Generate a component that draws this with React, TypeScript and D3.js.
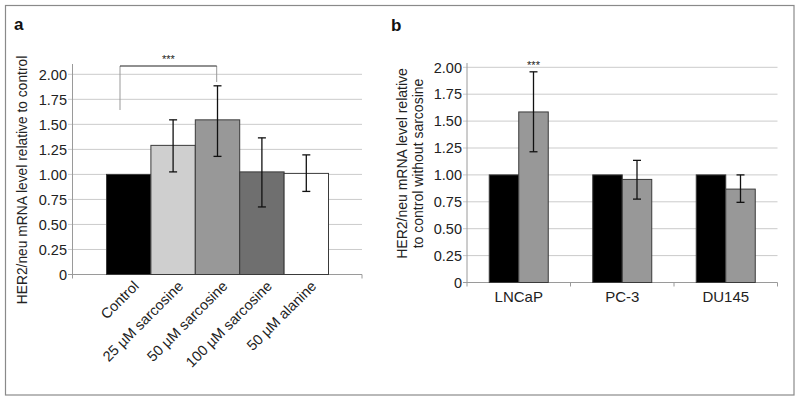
import React from "react";
import * as d3 from "d3";

// Panel a data
const seriesA = ["Control", "25 µM sarcosine", "50 µM sarcosine", "100 µM sarcosine", "50 µM alanine"];
const valuesA = [1.0, 1.29, 1.545, 1.025, 1.01];
const errHiA = [null, 1.545, 1.885, 1.365, 1.195];
const errLoA = [null, 1.025, 1.18, 0.675, 0.83];
const colorsA = ["#000000", "#cfcfcf", "#989898", "#6f6f6f", "#ffffff"];

// Panel b data
const cellsB = ["LNCaP", "PC-3", "DU145"];
const controlB = [1.0, 1.0, 1.0];
const sarcosineB = [1.585, 0.958, 0.868];
const errHiB = [1.958, 1.135, 1.0];
const errLoB = [1.215, 0.775, 0.745];
const colorsB = ["#000000", "#989898"];

const yTicks = [0, 0.25, 0.5, 0.75, 1.0, 1.25, 1.5, 1.75, 2.0];
const fmt = (v: number) => (v === 0 ? "0" : d3.format(".2f")(v));

const FONT = "'Liberation Sans', Arial, Helvetica, sans-serif";
const TXT = "#222";
const GRID = "#cbcbcb";
const AXIS = "#9a9a9a";
const EDGE = "#3a3a3a";

export default function App() {
  // ---- Panel a scales
  const ya = d3.scaleLinear().domain([0, 2]).range([274.5, 74.3]);
  const xaPlot: [number, number] = [72.5, 362];
  const xa = d3.scaleBand<string>().domain(seriesA).range([106.5, 328.5]).padding(0);

  // ---- Panel b scales
  const yb = d3.scaleLinear().domain([0, 2]).range([282.5, 67.3]);
  const xb0 = d3.scaleBand<string>().domain(cellsB).range([467, 777.5]).padding(0);
  const clusterW = 59;
  const xb1 = d3.scaleBand<string>().domain(["control", "sarcosine"]).range([0, clusterW]).padding(0);
  const bx = (c: string, s: string) => (xb0(c) as number) + (xb0.bandwidth() - clusterW) / 2 + (xb1(s) as number);

  const cap = 4;

  return (
    <svg
      width={800}
      height={401}
      style={{ position: "absolute", left: 0, top: 0, background: "#fff", fontFamily: FONT }}
    >
      <rect x={0} y={0} width={800} height={401} fill="#fff" />
      <rect x={5.5} y={5.5} width={788.5} height={389.5} fill="none" stroke="#8a8a8a" strokeWidth={1.2} />

      {/* ================= Panel a ================= */}
      <text x={14} y={30} fontSize={17} fontWeight="bold" fill="#111">a</text>
      {yTicks.map((t) => (
        <g key={"ga" + t}>
          <line x1={68} x2={xaPlot[1]} y1={ya(t)} y2={ya(t)} stroke={t === 0 ? AXIS : GRID} strokeWidth={1} />
          <text x={67} y={ya(t)} dy="0.36em" textAnchor="end" fontSize={14.5} fill={TXT}>{fmt(t)}</text>
        </g>
      ))}
      <line x1={xaPlot[0]} x2={xaPlot[0]} y1={64} y2={ya(0)} stroke={AXIS} strokeWidth={1} />
      <line x1={xaPlot[0]} x2={xaPlot[0]} y1={ya(0)} y2={ya(0) + 4} stroke={AXIS} />
      <line x1={xaPlot[1]} x2={xaPlot[1]} y1={ya(0)} y2={ya(0) + 4} stroke={AXIS} />
      {seriesA.map((s, i) => (
        <rect
          key={"ba" + s}
          x={xa(s)}
          y={ya(valuesA[i])}
          width={xa.bandwidth()}
          height={ya(0) - ya(valuesA[i])}
          fill={colorsA[i]}
          stroke={EDGE}
          strokeWidth={1}
        />
      ))}
      {seriesA.map((s, i) => {
        const hi = errHiA[i];
        const lo = errLoA[i];
        if (hi == null || lo == null) return null;
        const cx = (xa(s) as number) + xa.bandwidth() / 2;
        return (
          <g key={"ea" + s} stroke="#111" strokeWidth={1.3}>
            <line x1={cx} x2={cx} y1={ya(hi)} y2={ya(lo)} />
            <line x1={cx - cap} x2={cx + cap} y1={ya(hi)} y2={ya(hi)} />
            <line x1={cx - cap} x2={cx + cap} y1={ya(lo)} y2={ya(lo)} />
          </g>
        );
      })}
      {/* significance bracket */}
      <line x1={120} x2={120} y1={66} y2={110} stroke="#999" strokeWidth={1} />
      <line x1={216.7} x2={216.7} y1={66} y2={82} stroke="#999" strokeWidth={1} />
      <line x1={120} x2={216.7} y1={66} y2={66} stroke="#222" strokeWidth={1.2} />
      <text x={168.3} y={63} textAnchor="middle" fontSize={11} fill="#222">***</text>
      {seriesA.map((s) => {
        const cx = (xa(s) as number) + xa.bandwidth() / 2;
        return (
          <text
            key={"la" + s}
            transform={`translate(${cx + 11},${287}) rotate(-45)`}
            textAnchor="end"
            fontSize={14.5}
            fill={TXT}
          >
            {s}
          </text>
        );
      })}
      <text
        transform="translate(27,180) rotate(-90)"
        textAnchor="middle"
        fontSize={13.8}
        fill={TXT}
      >
        HER2/neu mRNA level relative to control
      </text>

      {/* ================= Panel b ================= */}
      <text x={391} y={31} fontSize={17} fontWeight="bold" fill="#111">b</text>
      {yTicks.map((t) => (
        <g key={"gb" + t}>
          <line x1={463} x2={777.5} y1={yb(t)} y2={yb(t)} stroke={t === 0 ? AXIS : GRID} strokeWidth={1} />
          <text x={462} y={yb(t)} dy="0.36em" textAnchor="end" fontSize={14.5} fill={TXT}>{fmt(t)}</text>
        </g>
      ))}
      <line x1={467} x2={467} y1={63} y2={yb(0)} stroke={AXIS} strokeWidth={1} />
      {cellsB.map((c) => (
        <line
          key={"tb" + c}
          x1={(xb0(c) as number) + xb0.bandwidth()}
          x2={(xb0(c) as number) + xb0.bandwidth()}
          y1={yb(0)}
          y2={yb(0) + 4}
          stroke={AXIS}
        />
      ))}
      <line x1={467} x2={467} y1={yb(0)} y2={yb(0) + 4} stroke={AXIS} />
      {cellsB.map((c, i) => (
        <g key={"bb" + c}>
          <rect
            x={bx(c, "control")}
            y={yb(controlB[i])}
            width={xb1.bandwidth()}
            height={yb(0) - yb(controlB[i])}
            fill={colorsB[0]}
            stroke={EDGE}
            strokeWidth={1}
          />
          <rect
            x={bx(c, "sarcosine")}
            y={yb(sarcosineB[i])}
            width={xb1.bandwidth()}
            height={yb(0) - yb(sarcosineB[i])}
            fill={colorsB[1]}
            stroke={EDGE}
            strokeWidth={1}
          />
        </g>
      ))}
      {cellsB.map((c, i) => {
        const cx = bx(c, "sarcosine") + xb1.bandwidth() / 2;
        return (
          <g key={"eb" + c} stroke="#111" strokeWidth={1.3}>
            <line x1={cx} x2={cx} y1={yb(errHiB[i])} y2={yb(errLoB[i])} />
            <line x1={cx - cap} x2={cx + cap} y1={yb(errHiB[i])} y2={yb(errHiB[i])} />
            <line x1={cx - cap} x2={cx + cap} y1={yb(errLoB[i])} y2={yb(errLoB[i])} />
          </g>
        );
      })}
      <text
        x={bx("LNCaP", "sarcosine") + xb1.bandwidth() / 2}
        y={yb(errHiB[0]) - 3}
        textAnchor="middle"
        fontSize={11}
        fill="#222"
      >
        ***
      </text>
      {cellsB.map((c) => (
        <text
          key={"lb" + c}
          x={(xb0(c) as number) + xb0.bandwidth() / 2}
          y={297}
          dy="0.36em"
          textAnchor="middle"
          fontSize={15}
          fill={TXT}
        >
          {c}
        </text>
      ))}
      <text transform="translate(401.7,163.5) rotate(-90)" textAnchor="middle" fontSize={14} fill={TXT}>
        <tspan x={0} dy="0.36em">HER2/neu mRNA level relative</tspan>
      </text>
      <text transform="translate(417.5,163.5) rotate(-90)" textAnchor="middle" fontSize={14} fill={TXT}>
        <tspan x={0} dy="0.36em">to control without sarcosine</tspan>
      </text>
    </svg>
  );
}
